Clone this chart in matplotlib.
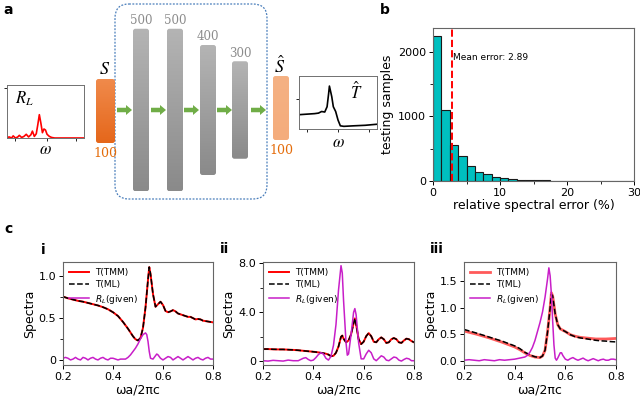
import numpy as np
import matplotlib
matplotlib.use("Agg")
import matplotlib.pyplot as plt
from matplotlib.patches import FancyBboxPatch, FancyArrow
from matplotlib.colors import LinearSegmentedColormap

# ---------------- data ----------------
# panel a: network layer sizes
layer_sizes = [500, 500, 400, 300]
io_size = 100

# small sketch spectra in panel a (fractions of inset box)
rl_x = [0.0, 0.03, 0.06, 0.08, 0.11, 0.14, 0.16, 0.19, 0.22, 0.25, 0.28, 0.31, 0.33,
        0.355, 0.38, 0.40, 0.42, 0.44, 0.46, 0.48, 0.50, 0.52, 0.55, 0.58, 0.62, 1.0]
rl_y = [0.01, 0.02, 0.0, 0.04, 0.0, 0.02, 0.05, 0.01, 0.03, 0.07, 0.02, 0.06, 0.13,
        0.03, 0.08, 0.25, 0.44, 0.28, 0.10, 0.17, 0.15, 0.07, 0.03, 0.01, 0.0, 0.0]
th_x = [0.0, 0.10, 0.20, 0.25, 0.29, 0.33, 0.36, 0.38, 0.39, 0.42, 0.44, 0.47,
        0.50, 0.53, 0.575, 0.7, 0.85, 1.0]
th_y = [0.27, 0.28, 0.29, 0.30, 0.33, 0.32, 0.42, 0.67, 0.81, 0.61, 0.42, 0.33,
        0.17, 0.06, 0.05, 0.06, 0.07, 0.09]

# panel b: histogram of relative spectral error
bin_width = 1.25
counts = [2250, 1100, 560, 385, 225, 145, 103, 67, 42, 28, 22, 15, 10, 8, 6, 4,
          2, 1, 0, 0, 0, 0, 0, 0]
mean_error = 2.89

# panel c (i)
w1_t = [0.20, 0.22, 0.24, 0.26, 0.28, 0.30, 0.32, 0.34, 0.36, 0.38, 0.40, 0.42, 0.44,
        0.46, 0.48, 0.49, 0.50, 0.51, 0.52, 0.53, 0.54, 0.545, 0.55, 0.56, 0.57, 0.58,
        0.59, 0.60, 0.61, 0.62, 0.63, 0.64, 0.65, 0.66, 0.67, 0.68, 0.69, 0.70, 0.71,
        0.72, 0.73, 0.74, 0.75, 0.76, 0.77, 0.78, 0.79, 0.80]
t1_tmm = [0.75, 0.73, 0.715, 0.70, 0.69, 0.675, 0.66, 0.645, 0.625, 0.60, 0.565, 0.52,
          0.45, 0.37, 0.28, 0.245, 0.23, 0.26, 0.38, 0.62, 0.95, 1.10, 1.02, 0.78, 0.63,
          0.66, 0.69, 0.65, 0.58, 0.565, 0.575, 0.59, 0.575, 0.55, 0.54, 0.53, 0.52,
          0.51, 0.51, 0.495, 0.48, 0.485, 0.48, 0.465, 0.46, 0.455, 0.45, 0.445]
t1_ml = t1_tmm
w1_r = [0.20, 0.21, 0.22, 0.23, 0.24, 0.25, 0.26, 0.27, 0.28, 0.29, 0.30, 0.31, 0.32,
        0.33, 0.34, 0.35, 0.36, 0.37, 0.38, 0.39, 0.40, 0.41, 0.42, 0.43, 0.44, 0.45,
        0.46, 0.47, 0.48, 0.49, 0.50, 0.51, 0.52, 0.53, 0.535, 0.54, 0.545, 0.55, 0.56,
        0.57, 0.575, 0.58, 0.59, 0.60, 0.61, 0.62, 0.63, 0.64, 0.65, 0.66, 0.67, 0.68,
        0.69, 0.70, 0.71, 0.72, 0.73, 0.74, 0.75, 0.76, 0.77, 0.78, 0.79, 0.80]
r1 = [0.02, 0.03, 0.02, 0.00, 0.01, 0.03, 0.01, 0.00, 0.03, 0.02, 0.00, 0.02, 0.03,
      0.01, 0.00, 0.02, 0.03, 0.01, 0.00, 0.02, 0.02, 0.01, 0.00, 0.01, 0.01, 0.01,
      0.03, 0.06, 0.10, 0.14, 0.19, 0.25, 0.30, 0.32, 0.30, 0.22, 0.10, 0.02, 0.01,
      0.05, 0.07, 0.06, 0.02, 0.00, 0.02, 0.04, 0.03, 0.00, 0.02, 0.04, 0.02, 0.00,
      0.02, 0.04, 0.02, 0.00, 0.02, 0.03, 0.01, 0.00, 0.02, 0.03, 0.01, 0.01]

# panel c (ii)
w2_t = [0.20, 0.22, 0.24, 0.26, 0.28, 0.30, 0.32, 0.34, 0.36, 0.38, 0.40, 0.42, 0.44,
        0.45, 0.46, 0.47, 0.48, 0.49, 0.50, 0.51, 0.515, 0.52, 0.53, 0.54, 0.55, 0.56,
        0.565, 0.57, 0.58, 0.59, 0.60, 0.61, 0.62, 0.63, 0.64, 0.65, 0.66, 0.67, 0.68,
        0.69, 0.70, 0.71, 0.72, 0.73, 0.74, 0.75, 0.76, 0.77, 0.78, 0.79, 0.80]
t2_tmm = [1.00, 1.00, 0.98, 0.97, 0.97, 0.95, 0.93, 0.90, 0.86, 0.82, 0.78, 0.73, 0.66,
          0.62, 0.55, 0.42, 0.45, 0.70, 1.20, 2.00, 2.10, 1.85, 1.55, 1.70, 2.20, 3.10,
          3.50, 3.00, 1.80, 1.40, 1.60, 2.05, 2.30, 2.05, 1.60, 1.55, 1.80, 1.95, 1.80,
          1.50, 1.55, 1.80, 1.90, 1.80, 1.55, 1.50, 1.70, 1.85, 1.80, 1.65, 1.55]
t2_ml = t2_tmm
w2_r = [0.20, 0.22, 0.24, 0.26, 0.28, 0.30, 0.32, 0.34, 0.36, 0.37, 0.38, 0.39, 0.40,
        0.41, 0.42, 0.43, 0.44, 0.45, 0.46, 0.47, 0.48, 0.49, 0.50, 0.51, 0.515, 0.52,
        0.53, 0.535, 0.54, 0.55, 0.56, 0.565, 0.57, 0.58, 0.59, 0.60, 0.61, 0.62, 0.63,
        0.64, 0.65, 0.66, 0.67, 0.68, 0.69, 0.70, 0.71, 0.72, 0.73, 0.74, 0.75, 0.76,
        0.77, 0.78, 0.79, 0.80]
r2 = [0.05, 0.02, 0.08, 0.05, 0.02, 0.10, 0.05, 0.05, 0.25, 0.30, 0.15, 0.05, 0.10,
      0.30, 0.55, 0.70, 0.60, 0.25, 0.10, 0.40, 1.30, 3.00, 5.80, 7.80, 7.20, 5.00,
      1.50, 0.50, 0.60, 2.20, 4.00, 4.30, 3.80, 1.50, 0.20, 0.20, 0.60, 0.90, 0.70,
      0.20, 0.05, 0.25, 0.45, 0.35, 0.10, 0.05, 0.20, 0.35, 0.30, 0.10, 0.02, 0.15,
      0.25, 0.20, 0.05, 0.05]

# panel c (iii)
w3_t = [0.20, 0.25, 0.30, 0.35, 0.40, 0.42, 0.44, 0.46, 0.48, 0.50, 0.51, 0.52, 0.53,
        0.54, 0.545, 0.55, 0.555, 0.56, 0.57, 0.58, 0.60, 0.62, 0.64, 0.66, 0.68, 0.70,
        0.72, 0.74, 0.76, 0.78, 0.80]
t3_tmm = [0.56, 0.50, 0.43, 0.35, 0.26, 0.21, 0.15, 0.10, 0.07, 0.06, 0.09, 0.20, 0.55,
          1.00, 1.28, 1.22, 1.05, 0.88, 0.68, 0.60, 0.55, 0.49, 0.46, 0.44, 0.43, 0.42,
          0.41, 0.41, 0.41, 0.415, 0.42]
t3_ml = [0.59, 0.52, 0.445, 0.37, 0.28, 0.23, 0.16, 0.11, 0.075, 0.06, 0.09, 0.20, 0.55,
         1.00, 1.25, 1.22, 1.05, 0.88, 0.68, 0.60, 0.55, 0.49, 0.45, 0.43, 0.415, 0.40,
         0.385, 0.375, 0.37, 0.36, 0.355]
w3_r = [0.20, 0.22, 0.24, 0.26, 0.28, 0.30, 0.32, 0.34, 0.36, 0.38, 0.40, 0.42, 0.44,
        0.45, 0.46, 0.47, 0.48, 0.49, 0.50, 0.51, 0.52, 0.53, 0.535, 0.54, 0.545, 0.55,
        0.555, 0.56, 0.565, 0.57, 0.58, 0.585, 0.59, 0.60, 0.61, 0.62, 0.63, 0.64, 0.65,
        0.66, 0.67, 0.68, 0.69, 0.70, 0.71, 0.72, 0.73, 0.74, 0.75, 0.76, 0.77, 0.78,
        0.79, 0.80]
r3 = [0.01, 0.02, 0.01, 0.00, 0.02, 0.01, 0.00, 0.02, 0.01, 0.02, 0.03, 0.05, 0.07,
      0.10, 0.16, 0.25, 0.38, 0.55, 0.72, 0.92, 1.20, 1.55, 1.75, 1.60, 1.25, 0.75,
      0.30, 0.05, 0.01, 0.05, 0.15, 0.15, 0.10, 0.03, 0.01, 0.04, 0.06, 0.03, 0.01,
      0.03, 0.05, 0.02, 0.00, 0.02, 0.04, 0.02, 0.00, 0.02, 0.03, 0.01, 0.01, 0.03,
      0.03, 0.02]

W, H = 640, 397
fig = plt.figure(figsize=(6.4, 3.97), dpi=100)


def px(x, y):
    # pixel position -> figure fraction
    return x / W, 1 - y / H


def box(x0, y0, x1, y1):
    return [x0 / W, 1 - y1 / H, (x1 - x0) / W, (y1 - y0) / H]


# ---------------- panel a: schematic ----------------
sk = fig.add_axes([0, 0, 1, 1])
sk.set_xlim(0, W)
sk.set_ylim(H, 0)
sk.axis("off")


def grad_bar(x, y, w, h, c_top, c_bot):
    patch = FancyBboxPatch((x, y), w, h, boxstyle="round,pad=0,rounding_size=2.5",
                           fc="none", ec="none")
    sk.add_patch(patch)
    cmap = LinearSegmentedColormap.from_list("g", [c_top, c_bot])
    im = sk.imshow(np.linspace(0, 1, 64).reshape(-1, 1), cmap=cmap, aspect="auto",
                   extent=(x, x + w, y + h, y), origin="upper", zorder=2)
    im.set_clip_path(patch)


mid = 110
frame = FancyBboxPatch((115, 4), 152, 195, boxstyle="round,pad=0,rounding_size=14",
                       fc="none", ec="#4A7EBB", lw=0.9, ls=(0, (1.5, 1.2)))
sk.add_patch(frame)

bar_x = [133, 167, 200, 232]
for bx, n in zip(bar_x, layer_sizes):
    h = n * 0.325
    grad_bar(bx, mid - h / 2, 16, h, "#B4B4B4", "#8A8A8A")
    sk.text(bx + 8, mid - h / 2 - 8, str(n), ha="center", va="center",
            fontsize=8.5, color="#8C8C8C", family="DejaVu Serif")

grad_bar(96, 79, 19, 64, "#F08A4B", "#E5671B")
grad_bar(273, 76, 16, 64, "#F4B183", "#F4AC7C")

for ax0 in [117, 151, 184, 217, 251]:
    sk.add_patch(FancyArrow(ax0, mid, 15, 0, width=4.5, head_width=10, head_length=6,
                            length_includes_head=True, color="#70AD47", lw=0, zorder=3))

sk.set_xlim(0, W)
sk.set_ylim(H, 0)

ax_rl = fig.add_axes(box(7, 85, 84, 138))
ax_rl.plot(rl_x, rl_y, color="red", lw=1.2)
ax_rl.set_xlim(0, 1)
ax_rl.set_ylim(0, 1)
ax_rl.set_xticks([0.1, 0.52, 0.9])
ax_rl.set_yticks([0.94])
ax_th = fig.add_axes(box(299, 76, 377, 129))
ax_th.plot(th_x, th_y, color="black", lw=1.2)
ax_th.set_xlim(0, 1)
ax_th.set_ylim(0, 1)
ax_th.set_xticks([0.1, 0.5, 0.9])
ax_th.set_yticks([0.56])
for a in (ax_rl, ax_th):
    a.tick_params(labelbottom=False, labelleft=False, length=2, width=0.6)
    for s in a.spines.values():
        s.set_color("#707070")
        s.set_linewidth(0.7)

tx = dict(math_fontfamily="stix", ha="center", va="center")
fig.text(*px(24, 99), "$R_L$", fontsize=12, **tx)
fig.text(*px(45, 149), r"$\omega$", fontsize=12, **tx)
fig.text(*px(338, 142), r"$\omega$", fontsize=12, **tx)
fig.text(*px(356, 92), r"$\hat{T}$", fontsize=12, **tx)
fig.text(*px(105, 69), "$S$", fontsize=13, **tx)
fig.text(*px(280, 66), r"$\hat{S}$", fontsize=13, **tx)
fig.text(*px(105, 153), "100", fontsize=9, color="#E46C0A", ha="center", va="center",
         family="DejaVu Serif")
fig.text(*px(281, 150), "100", fontsize=9, color="#E46C0A", ha="center", va="center",
         family="DejaVu Serif")

# ---------------- panel b: histogram ----------------
ax_b = fig.add_axes(box(433, 28, 634, 181))
edges = np.arange(len(counts)) * bin_width
ax_b.bar(edges, counts, width=bin_width, align="edge", color="#00BFBF",
         edgecolor="#1A1A1A", linewidth=0.8)
ax_b.axvline(mean_error, color="red", ls="--", lw=1.4)
ax_b.text(mean_error + 0.15, 1920, "Mean error: %.2f" % mean_error, fontsize=6.5,
          va="center")
ax_b.set_xlim(0, 30)
ax_b.set_ylim(0, 2370)
ax_b.set_xticks([0, 10, 20, 30])
ax_b.set_xticks([5, 15, 25], minor=True)
ax_b.set_yticks([0, 1000, 2000])
ax_b.set_yticks([500, 1500], minor=True)
ax_b.set_xlabel("relative spectral error (%)", fontsize=9, labelpad=1)
ax_b.set_ylabel("testing samples", fontsize=9, labelpad=3)

# ---------------- panel c: spectra ----------------
specs = [
    (box(63, 262, 213, 365), w1_t, t1_tmm, t1_ml, w1_r, r1, (-0.06, 1.16),
     [0, 0.5, 1.0], ["0", "0.5", "1.0"], [0.25, 0.75], "red", 1.4),
    (box(263, 262, 414, 365), w2_t, t2_tmm, t2_ml, w2_r, r2, (-0.3, 8.1),
     [0, 4, 8], ["0", "4.0", "8.0"], [2, 6], "red", 1.4),
    (box(464, 262, 616, 365), w3_t, t3_tmm, t3_ml, w3_r, r3, (-0.08, 1.86),
     [0, 0.5, 1.0, 1.5], ["0.0", "0.5", "1.0", "1.5"], [], "#FF5A5A", 2.0),
]
for rect, wt, tt, tm, wr, rr, yl, yt, ytl, ymin, rc, rlw in specs:
    ax = fig.add_axes(rect)
    ax.plot(wt, tt, color=rc, lw=rlw, label="T(TMM)")
    ax.plot(wt, tm, color="black", ls="--", lw=1.1, label="T(ML)")
    ax.plot(wr, rr, color="#C81EC8", lw=1.1, label="$R_L$(given)")
    ax.set_xlim(0.2, 0.8)
    ax.set_ylim(*yl)
    ax.set_xticks([0.2, 0.4, 0.6, 0.8])
    ax.set_yticks(yt)
    ax.set_yticklabels(ytl)
    ax.set_yticks(ymin, minor=True)
    ax.set_xlabel("ωa/2πc", fontsize=9, labelpad=1)
    ax.set_ylabel("Spectra", fontsize=9, labelpad=2)
    ax.legend(loc="upper left", frameon=False, fontsize=6.5, handlelength=2.2,
              borderaxespad=0.3, labelspacing=0.35, handletextpad=0.6)

for a in fig.axes[3:]:
    a.tick_params(labelsize=8, length=3, width=0.7, pad=2)
    a.tick_params(which="minor", length=2, width=0.6)
    for s in a.spines.values():
        s.set_color("#666666")
        s.set_linewidth(0.8)

lab = dict(fontsize=10, fontweight="bold", ha="left", va="center")
fig.text(*px(3, 10), "a", **lab)
fig.text(*px(380, 10), "b", **lab)
fig.text(*px(4, 229), "c", **lab)
fig.text(*px(41, 250), "i", **lab)
fig.text(*px(220, 249), "ii", **lab)
fig.text(*px(430, 249), "iii", **lab)

fig.savefig("out.png", dpi=100)
